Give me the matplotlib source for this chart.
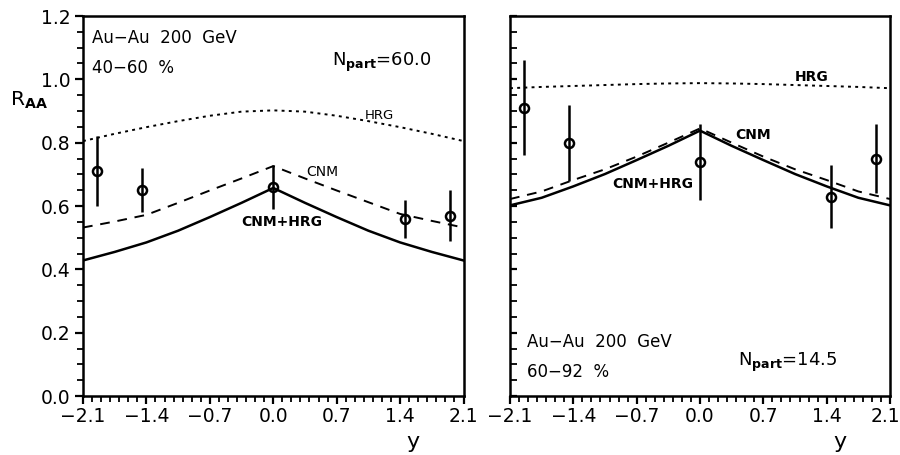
import numpy as np
import matplotlib
matplotlib.use("Agg")
import matplotlib.pyplot as plt
import matplotlib.transforms as mtransforms
from matplotlib.ticker import MultipleLocator, FixedLocator

plt.rcParams['font.family'] = ['DejaVu Sans']
plt.rcParams['mathtext.fontset'] = 'dejavusans'

# ---- data ----
y_grid = [-2.1, -1.75, -1.4, -1.05, -0.7, -0.35, 0.0, 0.35, 0.7, 1.05, 1.4, 1.75, 2.1]

# left panel: 40-60 %
hrg_left = [0.805, 0.828, 0.849, 0.868, 0.885, 0.898, 0.902, 0.898, 0.885, 0.868, 0.849, 0.828, 0.805]
cnm_left = [0.532, 0.551, 0.572, 0.610, 0.649, 0.687, 0.726, 0.687, 0.649, 0.612, 0.575, 0.553, 0.532]
cnmhrg_left = [0.428, 0.455, 0.485, 0.522, 0.565, 0.610, 0.657, 0.610, 0.565, 0.522, 0.485, 0.455, 0.428]

# right panel: 60-92 %
hrg_right = [0.972, 0.976, 0.979, 0.982, 0.985, 0.987, 0.988, 0.987, 0.985, 0.982, 0.979, 0.976, 0.972]
cnm_right = [0.622, 0.646, 0.682, 0.716, 0.756, 0.800, 0.845, 0.800, 0.756, 0.716, 0.682, 0.646, 0.622]
cnmhrg_right = [0.602, 0.626, 0.662, 0.701, 0.745, 0.790, 0.838, 0.790, 0.745, 0.701, 0.662, 0.626, 0.602]

# data points
y_data = [-1.95, -1.45, 0.0, 1.45, 1.95]
raa_left = [0.71, 0.65, 0.66, 0.56, 0.57]
err_left = [0.11, 0.07, 0.07, 0.06, 0.08]
raa_right = [0.91, 0.80, 0.74, 0.63, 0.75]
err_right = [0.15, 0.12, 0.12, 0.10, 0.11]

xticks = [-2.1, -1.4, -0.7, 0.0, 0.7, 1.4, 2.1]
xticklabels = ['\u22122.1', '\u22121.4', '\u22120.7', '0.0', '0.7', '1.4', '2.1']
yticks = [0.0, 0.2, 0.4, 0.6, 0.8, 1.0, 1.2]
yticklabels = ['0.0', '0.2', '0.4', '0.6', '0.8', '1.0', '1.2']

fig = plt.figure(figsize=(9.0, 4.55), dpi=100)
axL = fig.add_axes([83/900, 59/455, 380.5/900, 380/455])
axR = fig.add_axes([510/900, 59/455, 380/900, 380/455])

def style(ax, left_labels):
    ax.set_xlim(-2.1, 2.1)
    ax.set_ylim(0.0, 1.2)
    for s in ax.spines.values():
        s.set_linewidth(1.8)
    ax.xaxis.set_major_locator(FixedLocator(xticks))
    ax.set_xticklabels(xticklabels)
    ax.xaxis.set_minor_locator(MultipleLocator(0.1))
    ax.yaxis.set_major_locator(FixedLocator(yticks))
    ax.yaxis.set_minor_locator(MultipleLocator(0.05))
    ax.tick_params(axis='x', which='major', direction='out', length=6, width=1.6,
                   labelsize=13.5, pad=2, top=False)
    ax.tick_params(axis='x', which='minor', direction='out', length=4, width=1.3, top=False)
    if left_labels:
        ax.set_yticklabels(yticklabels)
        ax.tick_params(axis='y', which='major', direction='out', length=6, width=1.6,
                       labelsize=13.5, pad=3, right=False)
        ax.tick_params(axis='y', which='minor', direction='out', length=4, width=1.3, right=False)
    else:
        ax.tick_params(axis='y', which='major', direction='in', length=5, width=1.6,
                       labelleft=False, right=False)
        ax.tick_params(axis='y', which='minor', direction='in', length=5, width=1.3, right=False)
    ax.set_xlabel('y', fontsize=16)
    ax.xaxis.set_label_coords(0.868, -0.095)

for ax, hrg, cnm, ch, raa, err in [
        (axL, hrg_left, cnm_left, cnmhrg_left, raa_left, err_left),
        (axR, hrg_right, cnm_right, cnmhrg_right, raa_right, err_right)]:
    ax.plot(y_grid, hrg, color='black', lw=1.4, linestyle=(0, (1.5, 2.2)))
    ax.plot(y_grid, cnm, color='black', lw=1.4, linestyle=(0, (5, 4)))
    ax.plot(y_grid, ch, color='black', lw=1.8, linestyle='-')
    ax.errorbar(y_data, raa, yerr=err, fmt='o', mfc='none', mec='black', ms=6.5,
                mew=1.8, ecolor='black', elinewidth=1.8, capsize=0, zorder=5)

style(axL, True)
style(axR, False)

# nudge the last x tick label of the right panel so it stays inside the figure
fig.canvas.draw()
lbl = axR.get_xticklabels()[-1]
lbl.set_transform(lbl.get_transform() + mtransforms.ScaledTranslation(-5/100, 0, fig.dpi_scale_trans))

# left panel annotations
axL.text(0.023, 0.942, 'Au\u2212Au  200  GeV', transform=axL.transAxes, fontsize=12,
         ha='left', va='center')
axL.text(0.023, 0.864, '40\u221260  %', transform=axL.transAxes, fontsize=12,
         ha='left', va='center')
axL.text(0.655, 0.877, r'N$_{\mathbf{part}}$=60.0', transform=axL.transAxes, fontsize=13,
         ha='left', va='center')
axL.text(1.17, 0.885, 'HRG', fontsize=9.5, ha='center', va='center')
axL.text(0.54, 0.707, 'CNM', fontsize=10, ha='center', va='center')
axL.text(0.09, 0.55, 'CNM+HRG', fontsize=10, fontweight='bold', ha='center', va='center')
axL.set_ylabel(r'R$_{\mathbf{AA}}$', fontsize=14.5, rotation=0, ha='left', va='center')
axL.yaxis.set_label_coords(-0.192, 0.779)

# right panel annotations
axR.text(0.045, 0.141, 'Au\u2212Au  200  GeV', transform=axR.transAxes, fontsize=12,
         ha='left', va='center')
axR.text(0.045, 0.062, '60\u221292  %', transform=axR.transAxes, fontsize=12,
         ha='left', va='center')
axR.text(0.6, 0.089, r'N$_{\mathbf{part}}$=14.5', transform=axR.transAxes, fontsize=13,
         ha='left', va='center')
axR.text(1.23, 1.006, 'HRG', fontsize=10, fontweight='bold', ha='center', va='center')
axR.text(0.585, 0.824, 'CNM', fontsize=10, fontweight='bold', ha='center', va='center')
axR.text(-0.52, 0.668, 'CNM+HRG', fontsize=10, fontweight='bold', ha='center', va='center')

fig.savefig('out.png', dpi=100)
